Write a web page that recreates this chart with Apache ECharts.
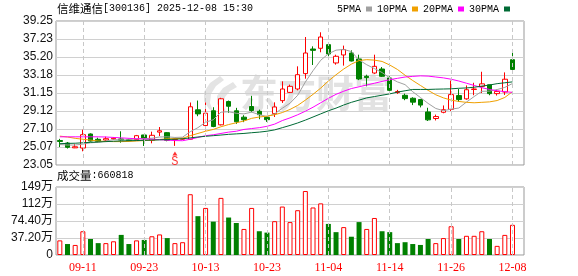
<!DOCTYPE html>
<html><head><meta charset="utf-8">
<script src="https://cdn.jsdelivr.net/npm/echarts@6/dist/echarts.min.js"></script>
<style>html,body{margin:0;padding:0;background:#fff}#c{width:578px;height:276px}</style>
</head><body><div id="c"></div>
<script>
// ---- data ----
const dates = ['09-08','09-09','09-10','09-11','09-12','09-15','09-16','09-17','09-18','09-19',
'09-22','09-23','09-24','09-25','09-26','09-29','09-30','10-09','10-10','10-13',
'10-14','10-15','10-16','10-17','10-20','10-21','10-22','10-23','10-24','10-27',
'10-28','10-29','10-30','10-31','11-03','11-04','11-05','11-06','11-07','11-10',
'11-11','11-12','11-13','11-14','11-17','11-18','11-19','11-20','11-21','11-24',
'11-25','11-26','11-27','11-28','12-01','12-02','12-03','12-04','12-05','12-08'];
const opens = [25.80,25.52,24.98,24.96,26.54,25.94,25.86,25.98,25.98,25.90,
25.90,26.43,25.83,26.75,26.69,25.92,25.95,25.95,29.26,27.49,
29.15,27.57,30.19,29.15,28.43,29.63,29.09,28.41,28.83,30.29,
31.22,31.60,33.33,36.10,36.18,36.59,34.53,35.43,35.65,34.98,
33.03,33.40,33.85,32.84,31.20,30.89,30.56,30.41,29.02,28.28,
28.98,29.31,30.86,30.49,31.55,31.89,32.07,31.08,31.26,34.90];
const closes = [25.70,25.04,25.10,26.46,25.75,25.72,26.01,26.06,25.86,25.80,
26.35,26.01,26.39,26.90,25.83,25.97,26.05,29.60,28.80,28.88,
27.38,30.50,29.66,27.91,28.14,29.18,28.71,28.15,29.58,31.60,
31.90,33.21,35.65,35.95,37.45,35.54,35.28,36.03,34.75,32.73,
32.88,34.15,33.03,31.45,31.32,30.52,30.12,29.79,28.13,28.50,
29.27,30.97,30.41,31.52,31.60,32.18,31.08,31.33,32.70,33.80];
const lows = [25.07,24.90,24.95,24.59,25.70,25.62,25.64,25.90,25.56,25.70,
25.75,25.19,25.49,26.31,25.72,25.20,25.90,25.90,28.54,26.93,
27.30,27.50,28.92,27.68,27.87,28.99,28.20,27.90,28.45,30.03,
31.15,31.45,32.76,34.30,35.73,35.20,34.34,34.23,34.70,32.60,
31.90,33.30,32.95,31.30,31.05,30.34,29.79,29.53,28.00,28.06,
28.87,29.13,30.16,30.40,30.90,31.15,30.90,30.86,30.93,33.54];
const highs = [25.99,25.64,25.40,27.02,26.61,26.12,26.24,26.16,26.84,26.00,
26.43,26.43,26.80,27.32,26.75,26.05,26.10,30.08,30.30,30.08,
29.55,30.61,30.30,29.48,28.65,30.83,29.28,28.53,30.10,32.46,
32.09,34.15,37.45,36.40,37.98,36.70,35.46,36.48,35.95,35.46,
33.21,35.46,34.07,33.03,31.50,31.08,30.67,30.49,29.49,28.72,
29.75,32.55,31.59,32.00,32.30,33.54,32.07,31.52,33.47,35.71];
// volume in 万
const volumes = [32,24,22,52,35,26,26,30,44,24,
32,33,41,45,37,26,28,133,85,103,
73,125,82,70,57,103,52,49,74,106,
72,98,140,104,113,68,50,61,40,72,
57,81,52,50,26,28,24,22,35,26,
37,63,35,42,42,52,35,20,44,66.08];
const ma5 = [25.35,25.30,25.30,25.40,25.55,25.60,25.75,25.90,25.88,25.88,
26.00,26.02,26.06,26.20,26.22,26.15,26.18,26.80,27.25,27.86,
28.14,29.00,29.04,28.87,28.80,29.00,28.72,28.50,28.80,29.44,
30.00,30.89,32.39,33.66,34.83,35.56,35.97,36.05,35.81,34.87,
34.33,33.90,33.45,32.85,32.40,32.09,31.29,30.64,29.98,29.41,
29.16,29.33,29.46,30.13,30.75,31.34,31.36,31.54,31.78,32.22];
const ma10 = [26.30,26.20,26.05,25.95,25.85,25.75,25.70,25.68,25.68,25.70,
25.75,25.80,25.85,25.92,26.00,26.02,26.05,26.35,26.60,26.85,
27.05,27.35,27.60,27.80,28.00,28.30,28.45,28.55,28.70,28.95,
29.30,29.75,30.35,31.00,31.70,32.50,33.20,33.85,34.40,34.80,
34.90,34.85,34.70,34.30,33.80,33.15,32.55,32.00,31.45,30.95,
30.60,30.35,30.20,30.10,30.05,30.10,30.15,30.30,30.65,31.30];
const ma20 = [26.22,26.22,26.22,26.22,26.22,26.22,26.20,26.15,26.10,26.05,
26.00,25.98,25.95,25.90,25.85,25.80,25.78,25.95,26.15,26.35,
26.45,26.60,26.75,26.85,27.05,27.15,27.25,27.40,27.65,28.05,
28.35,28.70,29.10,29.55,30.05,30.55,31.00,31.35,31.65,31.85,
32.05,32.25,32.45,32.65,32.80,32.95,33.02,33.08,33.05,32.95,
32.85,32.70,32.50,32.25,32.00,31.75,31.55,31.40,31.30,31.22];
const ma30 = [25.45,25.48,25.50,25.55,25.60,25.64,25.68,25.72,25.75,25.78,
25.80,25.83,25.85,25.88,25.92,25.95,26.00,26.10,26.20,26.28,
26.35,26.42,26.50,26.55,26.60,26.68,26.75,26.85,27.00,27.25,
27.50,27.78,28.10,28.45,28.80,29.15,29.45,29.80,30.10,30.35,
30.60,30.75,30.90,31.05,31.25,31.40,31.55,31.55,31.55,31.58,
31.60,31.62,31.68,31.72,31.80,31.92,32.05,32.20,32.30,32.40];
const priceTicks = ['23.05','25.07','27.10','29.12','31.15','33.18','35.20','37.23','39.25'];
const volTicks = ['0','37.20万','74.40万','112万','149万'];
const labelDates = ['09-11','09-23','10-13','10-23','11-04','11-14','11-26','12-08'];
const signalDates = ['09-29'];
const signalPrices = [24.34];
const signalTexts = ['S'];
const maNames = ['5PMA','10PMA','20PMA','30PMA'];
const maColors = ['#a0a0a0','#f0a000','#ff00ff','#006a35'];
const lastVolume = '660818';

// ---- build ----
const cats = dates.concat(['']);
const ohlc = dates.map((d,i)=>[opens[i], closes[i], lows[i], highs[i]]);
const volData = volumes.map((v,i)=>{
  const up = i===0 || closes[i] >= closes[i-1];
  return {value:v, itemStyle: up ? {color:'#ffffff', borderColor:'#ff0000', borderWidth:1}
                                 : {color:'#008000', borderColor:'#008000', borderWidth:0}};
});
const mas = [ma5, ma10, ma20, ma30];
const vLine = {silent:true, symbol:['none','none'], label:{show:false},
  lineStyle:{type:[4,3], color:'#c8c8c8', width:1}, emphasis:{disabled:true},
  data: labelDates.map(d=>({xAxis:d}))};
const nulls = dates.map(()=>'-');
const labelSet = new Set(labelDates);
const richTitle = {c:{fontFamily:'Noto Sans CJK SC', fontSize:11.5, fontWeight:'normal', color:'#000'},
                   a:{fontFamily:'Liberation Mono', fontSize:10, fontWeight:'normal', color:'#000'}};

const chart = echarts.init(document.getElementById('c'), null, {renderer:'canvas'});
chart.setOption({
  animation:false,
  backgroundColor:'#fff',
  title:[
    {text:'{c|信维通信}{a|[300136] 2025-12-08 15:30}', left:57, top:3, padding:0, textStyle:{fontWeight:'normal', rich:richTitle}},
    {text:'{c|成交量}{a|:'+lastVolume+'}', left:57, top:170, padding:0, textStyle:{fontWeight:'normal', rich:richTitle}}
  ],
  legend:{data:maNames, left:337, top:4, padding:0, align:'right', icon:'rect', itemWidth:6, itemHeight:5,
    itemGap:5, selectedMode:false, textStyle:{fontFamily:'Liberation Mono', fontSize:10, color:'#000'}},
  graphic:[
    {type:'polygon', z:0, silent:true,
     shape:{points:[[220,76],[210,83],[204,92],[204,101],[209,109],[213,111],[210,103],[211,94],[216,86],[224,80]]},
     style:{fill:'#e4e4e4'}},
    {type:'polygon', z:0, silent:true,
     shape:{points:[[233,82],[223,88],[217,96],[217,104],[222,111],[226,112],[223,105],[225,97],[230,91],[237,87]]},
     style:{fill:'#e4e4e4'}},
    {type:'text', x:240, y:93, z:0, silent:true,
     style:{text:'东方财富', fill:'#e2e2e2', font:'bold 38px "Noto Sans CJK SC"', textVerticalAlign:'middle'}}
  ],
  grid:[
    {left:56, top:21, width:468, height:144, show:true, borderColor:'#999', borderWidth:1},
    {left:56, top:187, width:468, height:68, show:true, borderColor:'#999', borderWidth:1}
  ],
  xAxis:[
    {type:'category', gridIndex:0, data:cats, boundaryGap:true,
     axisLine:{show:false}, axisTick:{show:false}, axisLabel:{show:false}, splitLine:{show:false}},
    {type:'category', gridIndex:1, data:cats, boundaryGap:true,
     axisLine:{show:false}, axisTick:{show:false}, splitLine:{show:false},
     axisLabel:{interval:(i,v)=>labelSet.has(v), color:'#ff0000', fontFamily:'Liberation Serif', fontSize:12, margin:7}}
  ],
  yAxis:[
    {type:'value', gridIndex:0, min:23.05, max:39.25, interval:2.025, axisLine:{show:false}, axisTick:{show:false},
     axisLabel:{formatter:(v)=>priceTicks[Math.round((v-23.05)/2.025)], color:'#111', fontFamily:'Liberation Sans', fontSize:12, margin:3},
     splitLine:{lineStyle:{color:'#d0d0d0', width:1}}},
    {type:'value', gridIndex:1, min:0, max:148.8, interval:37.2, axisLine:{show:false}, axisTick:{show:false},
     axisLabel:{formatter:(v)=>volTicks[Math.round(v/37.2)], color:'#111', fontFamily:'Liberation Sans, Noto Sans CJK SC', fontSize:12, margin:3},
     splitLine:{lineStyle:{color:'#d0d0d0', width:1}}}
  ],
  series:[
    {type:'line', xAxisIndex:0, yAxisIndex:0, data:nulls, z:1, showSymbol:false, markLine:vLine},
    {type:'line', xAxisIndex:1, yAxisIndex:1, data:nulls, z:1, showSymbol:false, markLine:vLine},
    {type:'candlestick', xAxisIndex:0, yAxisIndex:0, data:ohlc, barWidth:5, z:3,
     itemStyle:{color:'#ffffff', color0:'#008000', borderColor:'#ff0000', borderColor0:'#008000', borderWidth:1}},
    ...maNames.map((n,k)=>({name:n, type:'line', xAxisIndex:0, yAxisIndex:0, data:mas[k], z:4,
      showSymbol:false, symbol:'none', color:maColors[k], lineStyle:{width:1, color:maColors[k]}})),
    {type:'scatter', xAxisIndex:0, yAxisIndex:0, z:5, symbol:'triangle', symbolSize:[5,4],
     data:signalDates.map((d,i)=>({value:[d, signalPrices[i]], label:{formatter:signalTexts[i]}})),
     itemStyle:{color:'#ff0000'},
     label:{show:true, position:'bottom', distance:0, color:'#ff0000', fontFamily:'Liberation Mono', fontSize:12}},
    {type:'bar', xAxisIndex:1, yAxisIndex:1, data:volData, barWidth:5, z:3}
  ]
});
</script></body></html>
